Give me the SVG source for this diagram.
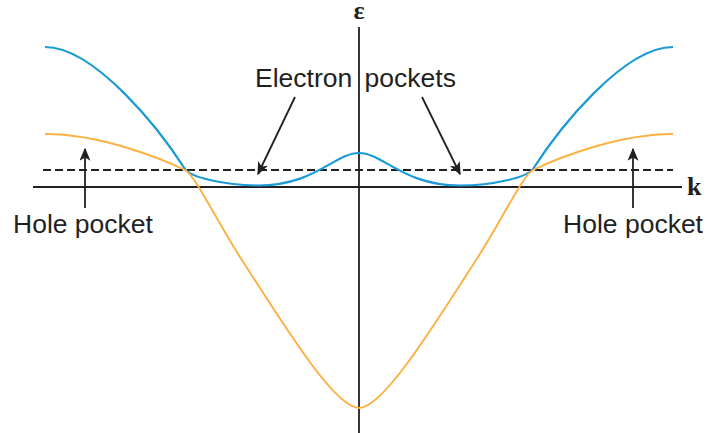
<svg xmlns="http://www.w3.org/2000/svg" width="707" height="433" viewBox="0 0 707 433">
<style>
.axis{stroke:#231f20;stroke-width:1.8;fill:none}
.dash{stroke:#231f20;stroke-width:1.8;stroke-dasharray:8 4;fill:none}
.blue{stroke:#1b9ad6;stroke-width:2.2;fill:none}
.orange{stroke:#fbb040;stroke-width:1.9;fill:none}
.arrow{stroke:#231f20;stroke-width:1.8;fill:none;marker-end:url(#ah)}
.lbl{font-family:"Liberation Sans",Arial,sans-serif;font-size:26.5px;fill:#231f20}
.sym{font-family:"Liberation Serif","Times New Roman",serif;font-weight:bold;fill:#231f20}
</style>
<defs>
<marker id="ah" viewBox="0 0 10 10" refX="9" refY="5" markerWidth="13" markerHeight="11" markerUnits="userSpaceOnUse" orient="auto" preserveAspectRatio="none">
<path d="M0,0 L10,5 L0,10 L2.5,5 Z" fill="#231f20"/>
</marker>
</defs>
<g id="axes">
<line class="axis" x1="359" y1="27" x2="359" y2="433"/>
<line class="axis" x1="33" y1="187" x2="682" y2="187"/>
<text class="sym" x="359" y="19" font-size="26" text-anchor="middle">ε</text>
<text class="sym" x="687" y="195" font-size="26">k</text>
</g>
<g id="fermi-level">
<line class="dash" x1="43" y1="170" x2="673" y2="170"/>
</g>
<g id="blue-band">
<path class="blue" d="M45,47 C95,47 160,130 185,169 C190,177 225,185.5 258,185.5 C315,185.5 335,153 359,153 C383,153 403,185.5 460,185.5 C493,185.5 528,177 533,169 C558,130 623,47 673,47"/>
</g>
<g id="orange-band">
<path class="orange" d="M45,134 C100,134 160,158 185,170 C195,175 215,218 240,257 C285,327 335,408 359,408 C383,408 433,327 478,257 C503,218 523,175 533,170 C558,158 618,134 673,134"/>
</g>
<g id="connectors">
<line class="arrow" x1="295" y1="97" x2="258" y2="174"/>
<line class="arrow" x1="422" y1="97" x2="460" y2="174"/>
<line class="arrow" x1="85" y1="208" x2="85" y2="149"/>
<line class="arrow" x1="633" y1="208" x2="633" y2="149"/>
</g>
<g id="label-electron">
<text class="lbl" x="255" y="87" font-size="27" word-spacing="5">Electron pockets</text>
</g>
<g id="label-hole-left">
<text class="lbl" x="13" y="233">Hole pocket</text>
</g>
<g id="label-hole-right">
<text class="lbl" x="703" y="233" text-anchor="end">Hole pocket</text>
</g>
</svg>
